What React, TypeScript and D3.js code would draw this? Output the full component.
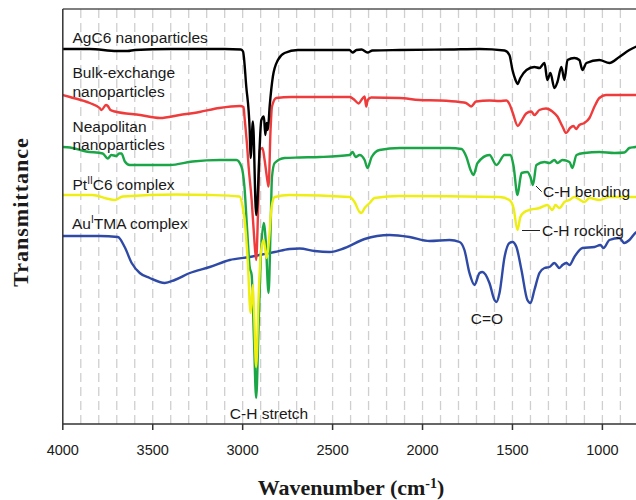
import React from "react";
import * as d3 from "d3";

type Pt = [number, number];

// Wavenumber (cm-1), offset transmittance (a.u.)
const agC6: Pt[] = [
  [4000, 75.0], [3850, 75.0], [3700, 74.6], [3640, 74.6], [3600, 74.8], [3400, 75.0],
  [3100, 75.0], [3010, 74.9], [2998, 74.5], [2980, 67.5], [2961, 58.8], [2956, 53.2],
  [2943, 60.5], [2925, 41.8], [2896, 60.8], [2882, 61.5], [2874, 57.8], [2867, 60.2],
  [2860, 58.8], [2850, 63.5], [2832, 69.5], [2804, 72.8], [2767, 74.2], [2694, 74.8],
  [2600, 74.8], [2450, 74.8], [2406, 74.8], [2389, 74.3], [2367, 74.8], [2339, 74.9],
  [2306, 74.3], [2278, 74.7], [2128, 74.8], [1850, 74.9], [1683, 75.0], [1544, 74.7],
  [1517, 73.8], [1500, 70.8], [1483, 68.8], [1472, 68.0], [1456, 69.2], [1422, 70.8],
  [1378, 71.4], [1350, 71.2], [1322, 72.2], [1306, 68.8], [1289, 70.2], [1267, 67.2],
  [1250, 68.4], [1228, 71.4], [1211, 68.8], [1194, 72.8], [1156, 73.2], [1128, 72.8],
  [1111, 70.8], [1089, 72.2], [1017, 72.8], [961, 72.2], [906, 73.4], [850, 74.8],
  [817, 75.4], [800, 75.6],
];

const bulkExchange: Pt[] = [
  [4000, 65.8], [3960, 65.4], [3850, 64.2], [3795, 63.2], [3785, 62.8], [3760, 63.8],
  [3750, 63.6], [3735, 62.8], [3710, 62.5], [3570, 61.8], [3460, 61.2], [3350, 61.8],
  [3240, 62.4], [3130, 63.2], [3015, 63.6], [2995, 63.4], [2990, 61.5], [2975, 55.5],
  [2967, 51.5], [2950, 44.8], [2937, 37.8], [2925, 32.8], [2915, 41.8], [2905, 54.8],
  [2890, 55.2], [2878, 52.8], [2863, 48.8], [2856, 47.5], [2845, 58.8], [2837, 63.5],
  [2813, 65.2], [2730, 65.4], [2405, 65.4], [2378, 64.8], [2355, 64.1], [2340, 64.8],
  [2322, 65.5], [2313, 63.5], [2305, 64.8], [2285, 65.3], [2128, 65.2], [2017, 64.8],
  [1905, 64.7], [1795, 64.4], [1758, 64.2], [1730, 63.5], [1702, 64.5], [1628, 64.7],
  [1572, 64.6], [1533, 64.7], [1517, 64.0], [1500, 62.4], [1470, 59.6], [1452, 60.5],
  [1424, 62.1], [1396, 62.5], [1378, 61.8], [1350, 62.8], [1313, 63.1], [1278, 62.5],
  [1250, 61.5], [1222, 59.5], [1202, 58.2], [1180, 59.2], [1161, 59.6], [1146, 59.0],
  [1128, 59.8], [1100, 60.2], [1072, 61.2], [1044, 63.5], [1017, 65.2], [980, 65.8],
  [817, 65.8], [800, 65.8],
];

const neapolitan: Pt[] = [
  [4000, 55.4], [3960, 55.3], [3870, 54.5], [3778, 54.1], [3750, 53.1], [3730, 53.8],
  [3702, 53.6], [3687, 54.1], [3674, 54.1], [3655, 52.5], [3628, 51.8], [3517, 51.8],
  [3406, 51.8], [3278, 52.5], [3128, 52.8], [3035, 52.8], [3007, 51.5], [2990, 47.4],
  [2975, 38.8], [2961, 31.4], [2950, 29.8], [2937, 16.8], [2925, 5.2], [2912, 18.8],
  [2900, 32.8], [2883, 40.2], [2872, 36.8], [2856, 26.2], [2845, 38.8], [2837, 49.4],
  [2822, 52.2], [2767, 53.2], [2683, 53.3], [2572, 53.4], [2405, 53.8], [2389, 54.4],
  [2372, 53.4], [2350, 53.8], [2322, 52.8], [2306, 51.2], [2283, 53.4], [2239, 54.8],
  [2128, 55.2], [1850, 55.2], [1783, 55.0], [1756, 53.4], [1733, 50.8], [1717, 49.8],
  [1694, 52.2], [1628, 53.8], [1589, 51.8], [1544, 53.8], [1511, 53.8], [1494, 51.6],
  [1472, 45.8], [1456, 49.2], [1450, 50.2], [1417, 50.4], [1400, 49.4], [1386, 47.8],
  [1367, 51.8], [1322, 52.4], [1294, 52.2], [1267, 52.8], [1250, 52.2], [1222, 52.8],
  [1183, 52.4], [1167, 51.2], [1144, 53.8], [1100, 54.2], [1017, 54.4], [933, 54.2],
  [878, 54.3], [850, 55.2], [817, 55.4], [800, 55.6],
];

const ptC6: Pt[] = [
  [4000, 45.8], [3835, 45.8], [3757, 45.1], [3711, 44.8], [3667, 45.5], [3368, 45.9],
  [3183, 45.8], [3017, 45.5], [3000, 43.4], [2989, 40.8], [2972, 32.8], [2956, 22.2],
  [2944, 27.8], [2937, 22.8], [2925, 11.4], [2912, 24.8], [2900, 33.8], [2883, 36.8],
  [2867, 33.2], [2856, 35.8], [2839, 43.4], [2822, 45.4], [2739, 45.8], [2405, 45.4],
  [2378, 44.4], [2350, 42.4], [2339, 42.2], [2322, 43.2], [2294, 44.2], [2267, 45.2],
  [2128, 45.6], [1572, 45.4], [1517, 44.8], [1494, 43.2], [1472, 38.8], [1456, 41.4],
  [1433, 42.4], [1406, 42.8], [1350, 43.2], [1306, 43.8], [1278, 42.8], [1261, 43.8],
  [1239, 43.2], [1211, 44.4], [1183, 44.8], [1156, 45.4], [1100, 44.4], [1072, 45.2],
  [1017, 44.8], [961, 45.4], [800, 45.4],
];

const auTMA: Pt[] = [
  [4000, 37.6], [3795, 37.6], [3694, 37.4], [3656, 35.4], [3617, 32.2], [3572, 30.2],
  [3517, 29.2], [3433, 28.2], [3378, 28.8], [3294, 30.2], [3183, 31.4], [3072, 32.8],
  [2961, 33.4], [2906, 33.8], [2822, 34.4], [2739, 35.0], [2683, 35.1], [2600, 34.6],
  [2517, 34.4], [2433, 35.2], [2322, 37.0], [2183, 37.8], [2072, 37.4], [1961, 36.6],
  [1850, 36.8], [1794, 36.4], [1767, 34.8], [1739, 30.2], [1711, 27.8], [1683, 30.2],
  [1667, 30.4], [1628, 28.2], [1600, 24.8], [1589, 24.4], [1572, 26.2], [1544, 33.4],
  [1517, 36.2], [1500, 36.4], [1478, 35.4], [1450, 30.8], [1417, 24.8], [1400, 24.2],
  [1378, 26.8], [1350, 30.2], [1322, 31.2], [1294, 31.4], [1267, 32.2], [1239, 31.2],
  [1222, 31.8], [1200, 32.2], [1183, 31.8], [1156, 33.4], [1111, 35.2], [1044, 35.4],
  [1011, 35.8], [994, 35.2], [961, 36.8], [906, 37.2], [878, 36.2], [850, 36.8],
  [817, 38.2], [800, 38.6],
];

const xTicks = [4000, 3500, 3000, 2500, 2000, 1500, 1000];
const gridValues = d3.range(3900, 799, -100);

const seriesList = [
  { name: "AuITMA", data: auTMA, color: "#2e4aa6" },
  { name: "Neapolitan", data: neapolitan, color: "#1aa646" },
  { name: "PtIIC6", data: ptC6, color: "#eeee12" },
  { name: "Bulk", data: bulkExchange, color: "#ef3b3b" },
  { name: "AgC6", data: agC6, color: "#000000" },
];

const W = 636;
const H = 500;
const left = 62.8;
const top = 9;
const bottom = 424;

export default function App() {
  const x = d3.scaleLinear().domain([4000, 1000]).range([left, 602.4]);
  const y = d3.scaleLinear().domain([0, 83]).range([bottom, top]);
  const line = d3
    .line<Pt>()
    .x((d) => x(d[0]))
    .y((d) => y(d[1]))
    .curve(d3.curveMonotoneX);

  const sans = "'Liberation Sans', Arial, sans-serif";
  const serif = "'Liberation Serif', 'Times New Roman', serif";
  const lblSize = 15.5;
  const txt = "#1a1a1a";

  return (
    <svg
      width={W}
      height={H}
      style={{ position: "absolute", left: 0, top: 0, background: "#fff" }}
    >
      <rect x={0} y={0} width={W} height={H} fill="#fff" />
      <g>
        {gridValues.map((g) => (
          <line
            key={g}
            x1={x(g)}
            x2={x(g)}
            y1={top}
            y2={bottom}
            stroke="#cfcfcf"
            strokeWidth={1.3}
            strokeDasharray="9,5"
          />
        ))}
      </g>
      <line x1={left} x2={W} y1={top} y2={top} stroke="#555" strokeWidth={1.5} />
      <g>
        {seriesList.map((s) => (
          <path
            key={s.name}
            d={line(s.data) || ""}
            fill="none"
            stroke={s.color}
            strokeWidth={2.4}
            strokeLinejoin="round"
          />
        ))}
      </g>
      <line x1={left} x2={left} y1={top} y2={bottom} stroke="#333" strokeWidth={1.5} />
      <line x1={left} x2={W} y1={bottom} y2={bottom} stroke="#333" strokeWidth={1.5} />
      {xTicks.map((t) => (
        <g key={t}>
          <line x1={x(t)} x2={x(t)} y1={bottom} y2={bottom + 6} stroke="#333" strokeWidth={1.5} />
          <text
            x={x(t)}
            y={454.5}
            textAnchor="middle"
            fontFamily={sans}
            fontSize={14.5}
            fill={txt}
          >
            {t}
          </text>
        </g>
      ))}
      <text x={351} y={495} textAnchor="middle" fontFamily={serif} fontWeight="bold" fontSize={22} fill={txt}>
        Wavenumber (cm
        <tspan baselineShift="super" fontSize={14}>-1</tspan>)
      </text>
      <text
        transform="translate(28,212) rotate(-90)"
        textAnchor="middle"
        fontFamily={serif}
        fontWeight="bold"
        fontSize={22}
        letterSpacing={1}
        fill={txt}
      >
        Transmittance
      </text>
      <g fontFamily={sans} fontSize={lblSize} fill={txt}>
        <text x={72.5} y={42.5}>AgC6 nanoparticles</text>
        <text x={72.5} y={78}>Bulk-exchange</text>
        <text x={72.5} y={96.5}>nanoparticles</text>
        <text x={72.5} y={131.5}>Neapolitan</text>
        <text x={72.5} y={149.5}>nanoparticles</text>
        <text x={72.5} y={190}>
          Pt<tspan fontSize={10} dy={-6}>II</tspan>
          <tspan dy={6}>C6 complex</tspan>
        </text>
        <text x={72} y={229}>
          Au<tspan fontSize={10} dy={-6}>I</tspan>
          <tspan dy={6}>TMA complex</tspan>
        </text>
        <text x={269} y={419} textAnchor="middle">C-H stretch</text>
        <text x={487} y={324} textAnchor="middle">C=O</text>
        <text x={543} y={197}>C-H bending</text>
        <text x={542} y={236}>C-H rocking</text>
      </g>
      <line x1={536} y1={186} x2={541.7} y2={191.7} stroke="#222" strokeWidth={1} />
      <line x1={522} y1={230.5} x2={540} y2={230.5} stroke="#222" strokeWidth={1} />
    </svg>
  );
}
